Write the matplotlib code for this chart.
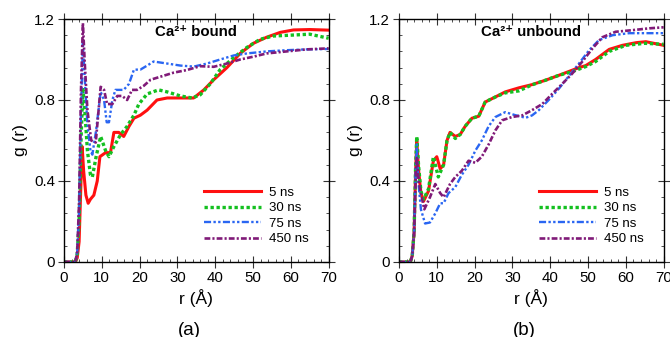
import numpy as np
import matplotlib
matplotlib.use('Agg')
import matplotlib.pyplot as plt
from matplotlib.ticker import MultipleLocator

plt.rcParams['font.family'] = ['Liberation Sans', 'DejaVu Sans']

labels = ['5 ns', '30 ns', '75 ns', '450 ns']
colors = ['#ff1010', '#14c020', '#2a66f2', '#801a78']
styles = ['-', (0, (1, 0.8)), (0, (3, 1, 1, 1, 1, 1)), (0, (2.2, 0.8, 0.8, 0.8))]
widths = [2.2, 2.4, 1.7, 1.9]

# (a) Ca2+ bound
bound_r = [
    [0, 3, 3.5, 4, 4.5, 4.8, 5.2, 5.8, 6.4, 7.0, 7.9, 8.8, 9.5, 11, 12.3, 13.2, 14.5, 15.8, 17.2, 18.5,
     20.2, 22, 24.6, 27.3, 30.8, 34.3, 37, 39.6, 43.1, 46.6, 50.1, 53.6, 57.2, 60.7, 65, 70],
    [0, 3, 3.5, 4, 4.5, 5.0, 5.5, 6.2, 7.0, 7.5, 8.5, 9.7, 11, 11.9, 13.2, 15, 16.7, 18.5, 19.8, 22,
     25, 27.3, 30.8, 33.9, 36, 38.7, 41.3, 44.9, 48.4, 51.9, 55.4, 59.8, 65, 70],
    [0, 3, 3.5, 4, 4.5, 5.0, 5.5, 6.2, 7.0, 7.5, 8.5, 9.7, 10.6, 11.3, 11.9, 12.8, 13.6, 15.8, 17.2, 18.5,
     20.2, 22, 23.7, 27.3, 30.8, 34.3, 37.8, 41.3, 44.9, 48.4, 53.6, 58.9, 64.2, 70],
    [0, 3, 3.5, 4, 4.5, 5.0, 5.5, 6.2, 7.2, 8.4, 9.7, 10.6, 11.4, 12.8, 14.1, 15.4, 16.7, 18, 19.3, 21.1,
     22.9, 25.5, 29, 32.5, 36, 39.6, 43.1, 46.6, 50.1, 53.6, 58.9, 64.2, 70],
]
bound_g = [
    [0, 0, 0.02, 0.1, 0.4, 0.57, 0.45, 0.33, 0.29, 0.31, 0.33, 0.40, 0.52, 0.54, 0.54, 0.64, 0.64, 0.62, 0.67, 0.71,
     0.725, 0.75, 0.80, 0.81, 0.81, 0.81, 0.85, 0.90, 0.96, 1.03, 1.08, 1.11, 1.134, 1.146, 1.148, 1.145],
    [0, 0, 0.04, 0.2, 0.6, 0.86, 0.75, 0.55, 0.43, 0.42, 0.52, 0.62, 0.55, 0.52, 0.57, 0.63, 0.67, 0.725, 0.78, 0.83,
     0.85, 0.84, 0.82, 0.81, 0.825, 0.88, 0.95, 1.01, 1.06, 1.10, 1.116, 1.12, 1.125, 1.105],
    [0, 0, 0.05, 0.25, 0.75, 1.08, 0.9, 0.68, 0.55, 0.53, 0.65, 0.84, 0.80, 0.69, 0.69, 0.80, 0.85, 0.85, 0.88, 0.95,
     0.95, 0.97, 0.99, 0.98, 0.97, 0.965, 0.98, 1.0, 1.02, 1.03, 1.04, 1.046, 1.05, 1.052],
    [0, 0, 0.05, 0.3, 0.85, 1.18, 0.98, 0.75, 0.60, 0.59, 0.865, 0.85, 0.78, 0.78, 0.82, 0.82, 0.80, 0.85, 0.85, 0.87,
     0.90, 0.915, 0.935, 0.948, 0.967, 0.964, 0.98, 1.0, 1.014, 1.03, 1.04, 1.05, 1.055],
]

# (b) Ca2+ unbound
unbound_r = [
    [0, 3, 3.5, 4, 4.4, 4.7, 5.2, 5.8, 6.5, 7.8, 9.1, 10, 10.9, 11.8, 12.7, 13.5, 14.9, 16.2, 17.5, 19.3,
     21.1, 22.8, 25.5, 28.1, 31.7, 35.2, 38.8, 42.3, 45.8, 47.6, 49.4, 52, 55.6, 59.1, 62.7, 65.3, 70],
    [0, 3, 3.5, 4, 4.4, 4.7, 5.2, 5.8, 6.5, 7.8, 9.1, 10.4, 11.8, 12.7, 13.5, 14.9, 16.2, 17.5, 19.3, 21.1,
     22.8, 25.5, 28.1, 31.7, 35.2, 38.8, 42.3, 45.8, 49.4, 52, 55.6, 60, 65, 70],
    [0, 3, 3.5, 4, 4.4, 4.7, 5.1, 5.8, 6.9, 8.2, 9.6, 10.9, 11.8, 13.1, 14.9, 16.6, 18.4, 20.2, 21.9, 23.7,
     25.5, 28.1, 30.8, 33.5, 35.2, 37, 39.6, 42.3, 45, 47.6, 50.3, 52.9, 56.5, 60.9, 70],
    [0, 3, 3.5, 4, 4.4, 4.7, 5.2, 5.8, 6.7, 8.2, 9.6, 10.9, 11.8, 13.5, 14.9, 16.6, 18.4, 20.2, 21.9, 23.7,
     25.5, 27.3, 29.9, 32.6, 35.2, 37.9, 40.5, 43.2, 45.8, 48.5, 51.2, 53.8, 57.3, 61.8, 66.2, 70],
]
unbound_g = [
    [0, 0, 0.03, 0.15, 0.45, 0.60, 0.45, 0.34, 0.30, 0.35, 0.50, 0.52, 0.46, 0.48, 0.60, 0.64, 0.62, 0.63, 0.67, 0.71,
     0.72, 0.79, 0.815, 0.84, 0.86, 0.876, 0.898, 0.922, 0.947, 0.96, 0.97, 1.0, 1.05, 1.07, 1.083, 1.088, 1.07],
    [0, 0, 0.03, 0.15, 0.47, 0.62, 0.47, 0.35, 0.31, 0.36, 0.52, 0.42, 0.48, 0.60, 0.64, 0.61, 0.63, 0.67, 0.71, 0.72,
     0.79, 0.815, 0.835, 0.845, 0.875, 0.898, 0.922, 0.94, 0.965, 0.99, 1.04, 1.07, 1.08, 1.075],
    [0, 0, 0.03, 0.15, 0.45, 0.58, 0.40, 0.26, 0.19, 0.195, 0.24, 0.29, 0.29, 0.34, 0.37, 0.43, 0.48, 0.55, 0.60, 0.67,
     0.716, 0.74, 0.725, 0.712, 0.724, 0.75, 0.80, 0.856, 0.92, 0.98, 1.046, 1.096, 1.12, 1.13, 1.13],
    [0, 0, 0.03, 0.14, 0.40, 0.52, 0.40, 0.34, 0.26, 0.32, 0.385, 0.34, 0.32, 0.385, 0.42, 0.45, 0.50, 0.49, 0.52, 0.58,
     0.65, 0.70, 0.716, 0.724, 0.75, 0.78, 0.83, 0.88, 0.93, 0.99, 1.055, 1.11, 1.137, 1.145, 1.154, 1.159],
]

panels = [
    ('Ca²⁺ bound', '(a)', bound_r, bound_g),
    ('Ca²⁺ unbound', '(b)', unbound_r, unbound_g),
]

fig = plt.figure(figsize=(6.7, 3.37), dpi=100)
lefts = [0.0955, 0.5955]

for left, (title, tag, rr, gg) in zip(lefts, panels):
    ax = fig.add_axes([left, 0.2226, 0.395, 0.721])
    for i in range(4):
        ax.plot(rr[i], gg[i], color=colors[i], linestyle=styles[i], linewidth=widths[i],
                label=labels[i])
    ax.set_xlim(0, 70)
    ax.set_ylim(0, 1.2)
    ax.set_xticks(np.arange(0, 71, 10))
    ax.set_yticks([0, 0.4, 0.8, 1.2])
    ax.set_yticklabels(['0', '0.4', '0.8', '1.2'])
    ax.xaxis.set_minor_locator(MultipleLocator(2))
    ax.yaxis.set_minor_locator(MultipleLocator(0.08))
    ax.tick_params(which='both', top=True, right=True, labelsize=10.8, color='#333333')
    ax.tick_params(which='major', direction='inout', length=9, pad=2)
    ax.tick_params(which='minor', direction='in', length=2.5)
    for s in ax.spines.values():
        s.set_linewidth(1.0)
    ax.set_xlabel('r (Å)', fontsize=12.5, labelpad=3)
    ax.set_ylabel('g (r)', fontsize=12.5, labelpad=4)
    ax.text(35, 1.135, title, ha='center', va='center', fontsize=10.8, fontweight='bold')
    ax.text(0.475, -0.28, tag, transform=ax.transAxes, ha='center', va='center', fontsize=13.5)
    ax.legend(loc='lower right', bbox_to_anchor=(0.97, 0.02), frameon=False, fontsize=9.5,
              handlelength=4.3, labelspacing=0.24, handletextpad=0.6)

fig.savefig('out.png', dpi=100)
